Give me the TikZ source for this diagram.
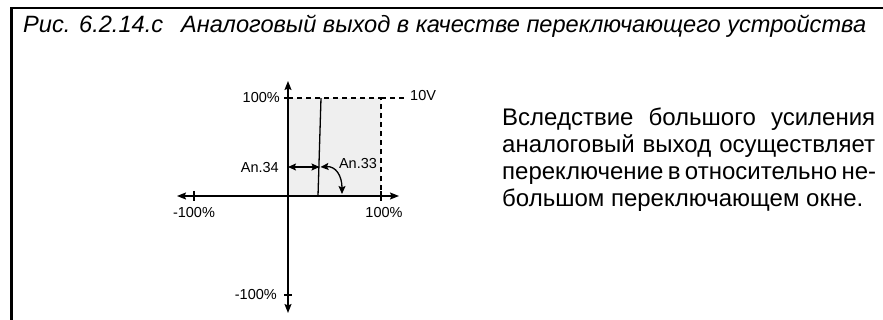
\documentclass[tikz,border=0pt]{standalone}
\usepackage{fontspec}
\setmainfont{Liberation Sans}
\usetikzlibrary{arrows.meta}
\definecolor{fillgray}{HTML}{EFEFEF}
\tikzset{
  axis/.style={line width=1.3pt,-{Stealth[length=9pt,width=7pt,inset=1.5pt]}},
  dbl/.style={line width=1.3pt,{Stealth[length=8pt,width=7pt,inset=1.5pt]}-{Stealth[length=8pt,width=7pt,inset=1.5pt]}},
  dashline/.style={line width=1.3pt,dash pattern=on 5pt off 4pt},
  tick/.style={line width=1.3pt},
  lbl/.style={font=\fontsize{14.5}{16}\selectfont,inner sep=0pt},
  paraline/.style={anchor=base west,inner sep=0pt,font=\fontsize{24}{26}\selectfont},
  frame/.style={line width=2.6pt}
}
\begin{document}
\begin{tikzpicture}[x=1pt,y=-1pt]
\useasboundingbox (0,0) rectangle (883,320);
% frame
\coordinate (fbl) at (11.5,321);
\coordinate (ftl) at (11.5,8);
\coordinate (ftr) at (884,8);
\draw[frame] (fbl) -- (ftl) -- (ftr);
% title
\node[anchor=base west,inner sep=0pt] (title) at (23,33) {\itshape\fontsize{23.6}{26}\selectfont Рис. 6.2.14.c\hspace{18pt}Аналоговый выход в качестве переключающего устройства};
% coordinates
\coordinate (O) at (288,196);
\coordinate (xl) at (177,196);
\coordinate (xr) at (399,196);
\coordinate (yt) at (288,81);
\coordinate (yb) at (288,313);
\coordinate (c100) at (288,98);
\coordinate (r100) at (381,98);
\coordinate (rx) at (381,196);
\coordinate (v10) at (404,98);
% shaded area
\fill[fillgray] (c100) rectangle (rx);
% dashed
\draw[dashline] (c100) -- (r100) -- (rx);
\draw[dashline] (r100) -- (v10);
% axes
\draw[axis] (O) -- (yt);
\draw[axis] (O) -- (yb);
\draw[axis] (O) -- (xr);
\draw[axis] (O) -- (xl);
% ticks
\draw[tick] (284,98) -- (292,98);
\draw[tick] (284,295) -- (292,295);
\draw[tick] (194,191) -- (194,201);
\draw[tick] (381,191) -- (381,201);
% steep line
\coordinate (st) at (321,98);
\coordinate (sb) at (318,196);
\draw[line width=1.3pt] (st) -- (sb);
% An.34
\coordinate (a34l) at (288,167);
\coordinate (a34r) at (319.5,167);
\draw[dbl] (a34l) -- (a34r);
% An.33
\coordinate (a33s) at (320.5,167);
\coordinate (a33e) at (342,194);
\draw[dbl] (a33s) .. controls (336,166) and (342,176) .. (a33e);
% labels
\node[lbl,anchor=east] (l100) at (280,98) {100\%};
\node[lbl,anchor=west] (l10v) at (410,96) {10V};
\node[lbl] (lm100x) at (194,213) {-100\%};
\node[lbl] (l100x) at (384,213) {100\%};
\node[lbl,anchor=east] (lm100y) at (277,295) {-100\%};
\node[lbl,anchor=east] (l34) at (279,168) {An.34};
\node[lbl] (l33) at (358,164) {An.33};
% paragraph
\node[paraline] (p1) at (502,125.5) {\makebox[373pt][s]{Вследствие большого усиления}};
\node[paraline] (p2) at (502,152.5) {\makebox[373pt][s]{аналоговый выход осуществляет}};
\node[paraline] (p3) at (502,179.5) {\makebox[373pt][s]{переключение в относительно не-}};
\node[paraline] (p4) at (502,206.5) {большом переключающем окне.};
\end{tikzpicture}
\end{document}
